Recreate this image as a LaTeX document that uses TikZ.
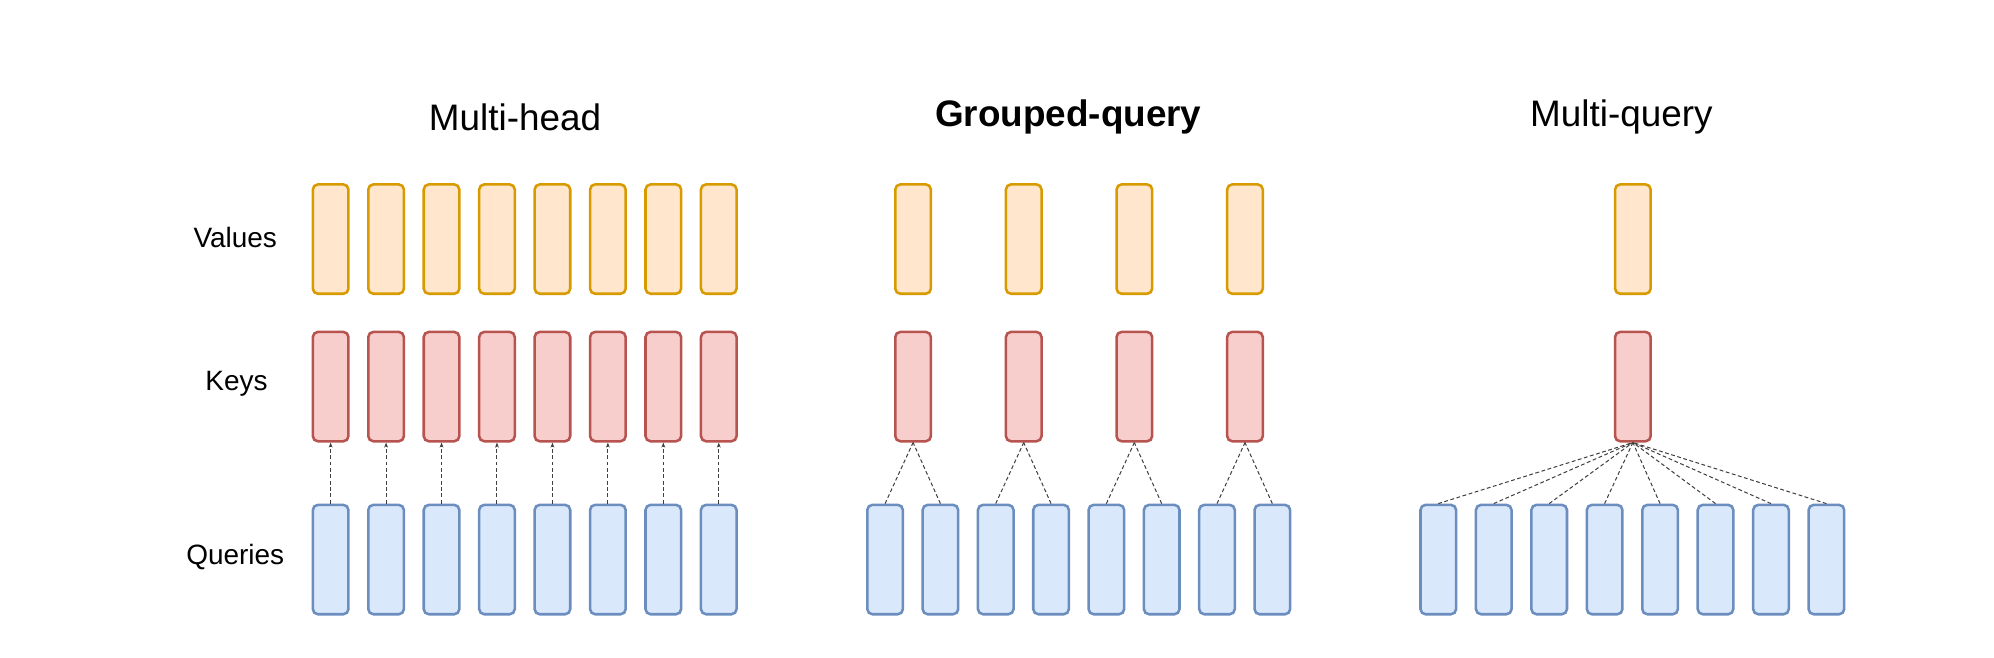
\documentclass[tikz,border=0pt]{standalone}
\usepackage{fontspec}
\setmainfont{Liberation Sans}
\usetikzlibrary{arrows.meta}
\definecolor{valline}{HTML}{D79B00}
\definecolor{valfill}{HTML}{FFE6CC}
\definecolor{keyline}{HTML}{B85450}
\definecolor{keyfill}{HTML}{F8CECC}
\definecolor{qline}{HTML}{6C8EBF}
\definecolor{qfill}{HTML}{DAE8FC}
\tikzset{every picture/.style={line width=2pt}}
\begin{document}
\begin{tikzpicture}[x=1pt,y=-1pt,
  vecbox/.style={rounded corners=4pt,minimum width=28pt,minimum height=86pt,inner sep=0pt},
  valbox/.style={vecbox,draw=valline,fill=valfill},
  keybox/.style={vecbox,draw=keyline,fill=keyfill},
  qbox/.style={vecbox,draw=qline,fill=qfill},
  link/.style={draw=black!75,line width=0.8pt,dash pattern=on 3pt off 2pt},
  rowlabel/.style={font=\fontsize{22}{26}\selectfont},
  title/.style={font=\fontsize{29}{34}\selectfont}]
\useasboundingbox (0,0) rectangle (1568,517);

% labels
\node[rowlabel] (lv) at (185,187) {Values};
\node[rowlabel] (lk) at (186,302) {Keys};
\node[rowlabel] (lq) at (185,438) {Queries};
\node[title] (t1) at (405,92) {Multi-head};
\node[title] (t2) at (840,92) {\bfseries Grouped-query};
\node[title] (t3) at (1275,92) {Multi-query};

% multi-head
\foreach \i in {0,...,7}{
  \node[valbox] (mv\i) at (260+43.6*\i,188) {};
  \node[keybox] (mk\i) at (260+43.6*\i,304) {};
  \node[qbox] (mq\i) at (260+43.6*\i,440) {};
  \draw[link,-{Stealth[length=4pt,width=3pt]}] (mq\i.north) -- (mk\i.south);
}

% grouped-query
\foreach \g in {0,...,3}{
  \node[valbox] (gv\g) at (718+87*\g,188) {};
  \node[keybox] (gk\g) at (718+87*\g,304) {};
  \node[qbox] (gqa\g) at (696+87*\g,440) {};
  \node[qbox] (gqb\g) at (739.5+87*\g,440) {};
  \draw[link] (gqa\g.north) -- (gk\g.south);
  \draw[link] (gqb\g.north) -- (gk\g.south);
}

% multi-query
\node[valbox] (qv) at (1284,188) {};
\node[keybox] (qk) at (1284,304) {};
\foreach \i in {0,...,7}{
  \node[qbox] (qq\i) at (1131+43.6*\i,440) {};
  \draw[link] (qq\i.north) -- (qk.south);
}
\end{tikzpicture}
\end{document}
